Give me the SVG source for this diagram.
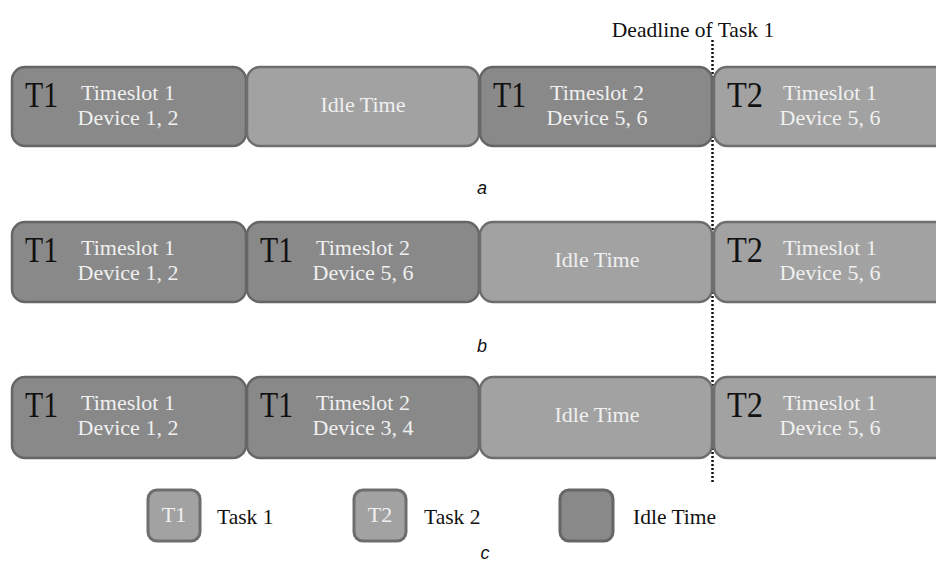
<svg xmlns="http://www.w3.org/2000/svg" width="936" height="565" viewBox="0 0 936 565">
<style>
.dk{fill:#898989;stroke:#666;stroke-width:2.5}
.lt{fill:#a2a2a2;stroke:#6e6e6e;stroke-width:2.5}
.lgb{stroke-width:3}
.tk{font-family:"Liberation Serif",serif;font-size:35px;fill:#111}
.wt{font-family:"Liberation Serif",serif;font-size:22px;fill:#f0f0f0;text-anchor:middle}
.lg{font-family:"Liberation Serif",serif;font-size:21.5px;fill:#111}
.cap{font-family:"Liberation Sans",sans-serif;font-size:18px;font-style:italic;fill:#111;text-anchor:middle}
</style>
<rect width="936" height="565" fill="#fff"/>
<g id="connectors">
<line x1="712.5" y1="40" x2="712.5" y2="483" stroke="#111" stroke-width="2.5" stroke-dasharray="2 2"/>
</g>
<g id="deadline"><text x="693" y="37" class="lg" text-anchor="middle" font-size="20.5">Deadline of Task 1</text></g>
<!-- Row a -->
<g id="a1"><rect x="12" y="67" width="234" height="79" rx="13" class="dk"/><text x="25" y="107" class="tk" textLength="33" lengthAdjust="spacingAndGlyphs">T1</text><text x="128" y="100" class="wt">Timeslot 1</text><text x="128" y="125" class="wt">Device 1, 2</text></g>
<g id="a2"><rect x="247" y="67" width="232" height="79" rx="13" class="lt"/><text x="363" y="112" class="wt">Idle Time</text></g>
<g id="a3"><rect x="480" y="67" width="232" height="79" rx="13" class="dk"/><text x="493" y="107" class="tk" textLength="33" lengthAdjust="spacingAndGlyphs">T1</text><text x="597" y="100" class="wt">Timeslot 2</text><text x="597" y="125" class="wt">Device 5, 6</text></g>
<g id="a4"><rect x="714" y="67" width="240" height="79" rx="13" class="lt"/><text x="727" y="107" class="tk" textLength="36" lengthAdjust="spacingAndGlyphs">T2</text><text x="830" y="100" class="wt">Timeslot 1</text><text x="830" y="125" class="wt">Device 5, 6</text></g>
<g id="cap-a"><text x="482" y="194" class="cap">a</text></g>
<!-- Row b -->
<g id="b1"><rect x="12" y="222" width="234" height="80" rx="13" class="dk"/><text x="25" y="262" class="tk" textLength="33" lengthAdjust="spacingAndGlyphs">T1</text><text x="128" y="255" class="wt">Timeslot 1</text><text x="128" y="280" class="wt">Device 1, 2</text></g>
<g id="b2"><rect x="247" y="222" width="232" height="80" rx="13" class="dk"/><text x="260" y="262" class="tk" textLength="33" lengthAdjust="spacingAndGlyphs">T1</text><text x="363" y="255" class="wt">Timeslot 2</text><text x="363" y="280" class="wt">Device 5, 6</text></g>
<g id="b3"><rect x="480" y="222" width="232" height="80" rx="13" class="lt"/><text x="597" y="267" class="wt">Idle Time</text></g>
<g id="b4"><rect x="714" y="222" width="240" height="80" rx="13" class="lt"/><text x="727" y="262" class="tk" textLength="36" lengthAdjust="spacingAndGlyphs">T2</text><text x="830" y="255" class="wt">Timeslot 1</text><text x="830" y="280" class="wt">Device 5, 6</text></g>
<g id="cap-b"><text x="482" y="352" class="cap">b</text></g>
<!-- Row c -->
<g id="c1"><rect x="12" y="377" width="234" height="81" rx="13" class="dk"/><text x="25" y="417" class="tk" textLength="33" lengthAdjust="spacingAndGlyphs">T1</text><text x="128" y="410" class="wt">Timeslot 1</text><text x="128" y="435" class="wt">Device 1, 2</text></g>
<g id="c2"><rect x="247" y="377" width="232" height="81" rx="13" class="dk"/><text x="260" y="417" class="tk" textLength="33" lengthAdjust="spacingAndGlyphs">T1</text><text x="363" y="410" class="wt">Timeslot 2</text><text x="363" y="435" class="wt">Device 3, 4</text></g>
<g id="c3"><rect x="480" y="377" width="232" height="81" rx="13" class="lt"/><text x="597" y="422" class="wt">Idle Time</text></g>
<g id="c4"><rect x="714" y="377" width="240" height="81" rx="13" class="lt"/><text x="727" y="417" class="tk" textLength="36" lengthAdjust="spacingAndGlyphs">T2</text><text x="830" y="410" class="wt">Timeslot 1</text><text x="830" y="435" class="wt">Device 5, 6</text></g>
<!-- Legend -->
<g id="leg-t1"><rect x="148" y="490" width="52" height="51" rx="9" class="lt lgb"/><text x="174" y="522" class="wt" font-size="19">T1</text><text x="217" y="524" class="lg">Task 1</text></g>
<g id="leg-t2"><rect x="354" y="490" width="52" height="51" rx="9" class="lt lgb"/><text x="380" y="522" class="wt" font-size="19">T2</text><text x="424" y="524" class="lg">Task 2</text></g>
<g id="leg-idle"><rect x="560" y="490" width="53" height="51" rx="9" class="dk lgb"/><text x="633" y="524" class="lg">Idle Time</text></g>
<g id="cap-c"><text x="485" y="559" class="cap">c</text></g>
</svg>
